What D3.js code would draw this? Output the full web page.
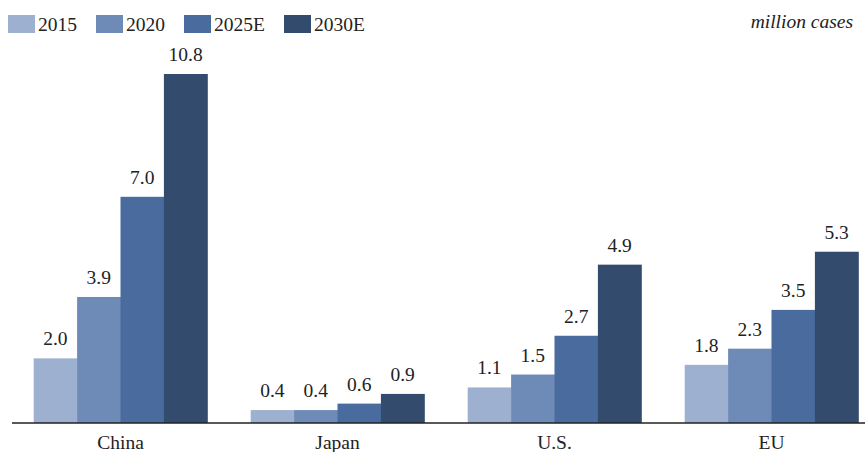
<!DOCTYPE html>
<html>
<head>
<meta charset="utf-8">
<script src="https://cdn.jsdelivr.net/npm/d3@7"></script>
<style>
    body { margin: 0; background: #fff; }
</style>
</head>
<body>
<svg id="chart" width="865" height="452"></svg>
<script>
// data
const regions = ['China', 'Japan', 'U.S.', 'EU'];
const years = ['2015', '2020', '2025E', '2030E'];
const v2015 = [2.0, 0.4, 1.1, 1.8];
const v2020 = [3.9, 0.4, 1.5, 2.3];
const v2025 = [7.0, 0.6, 2.7, 3.5];
const v2030 = [10.8, 0.9, 4.9, 5.3];
const colors = ['#9db0cf', '#6e8bb7', '#4a6b9d', '#334b6d'];

const FONT = '"Liberation Serif", "Times New Roman", serif';
const FS = 19.5;
const seriesValues = [v2015, v2020, v2025, v2030];
const rows = regions.map((r, i) => ({
    region: r,
    values: years.map((y, j) => ({ year: y, value: seriesValues[j][i] }))
}));

const svg = d3.select('#chart');
const baseline = 423;

const x0 = d3.scaleBand()
    .domain(regions)
    .range([12, 880])
    .paddingInner(0.2)
    .paddingOuter(0.1);

const x1 = d3.scaleBand()
    .domain(years)
    .range([0, x0.bandwidth()]);

const y = d3.scaleLinear()
    .domain([0, 10.8])
    .range([baseline, 74]);

const color = d3.scaleOrdinal().domain(years).range(colors);

// bars
const groups = svg.append('g')
    .selectAll('g')
    .data(rows)
    .join('g')
    .attr('transform', d => `translate(${x0(d.region)},0)`);

groups.selectAll('rect')
    .data(d => d.values)
    .join('rect')
    .attr('x', d => x1(d.year))
    .attr('y', d => y(d.value))
    .attr('width', x1.bandwidth() + 0.5)
    .attr('height', d => baseline - y(d.value))
    .attr('fill', d => color(d.year));

groups.selectAll('text')
    .data(d => d.values)
    .join('text')
    .attr('x', d => x1(d.year) + x1.bandwidth() / 2)
    .attr('y', d => y(d.value) - 13)
    .attr('text-anchor', 'middle')
    .attr('font-family', FONT)
    .attr('font-size', FS)
    .attr('fill', '#222')
    .text(d => d3.format('.1f')(d.value));

// x axis
const xAxis = svg.append('g')
    .attr('transform', `translate(0,${baseline})`)
    .call(d3.axisBottom(x0).tickSize(0).tickPadding(12));
xAxis.attr('font-family', FONT).attr('font-size', FS);
xAxis.select('.domain')
    .attr('d', `M12,0H880`)
    .attr('stroke', '#222')
    .attr('stroke-width', 1.5);
xAxis.selectAll('text')
    .attr('fill', '#222');

// legend
const legendX = [8, 96, 184, 284];
const legend = svg.append('g')
    .selectAll('g')
    .data(years)
    .join('g')
    .attr('transform', (d, i) => `translate(${legendX[i]},15)`);

legend.append('rect')
    .attr('width', 27)
    .attr('height', 18)
    .attr('fill', d => color(d));

legend.append('text')
    .attr('x', 30)
    .attr('y', 16)
    .attr('font-family', FONT)
    .attr('font-size', FS)
    .attr('fill', '#222')
    .text(d => d);

svg.append('text')
    .attr('x', 853)
    .attr('y', 28)
    .attr('text-anchor', 'end')
    .attr('font-family', FONT)
    .attr('font-size', FS)
    .attr('font-style', 'italic')
    .attr('fill', '#222')
    .text('million cases');
</script>
</body>
</html>
